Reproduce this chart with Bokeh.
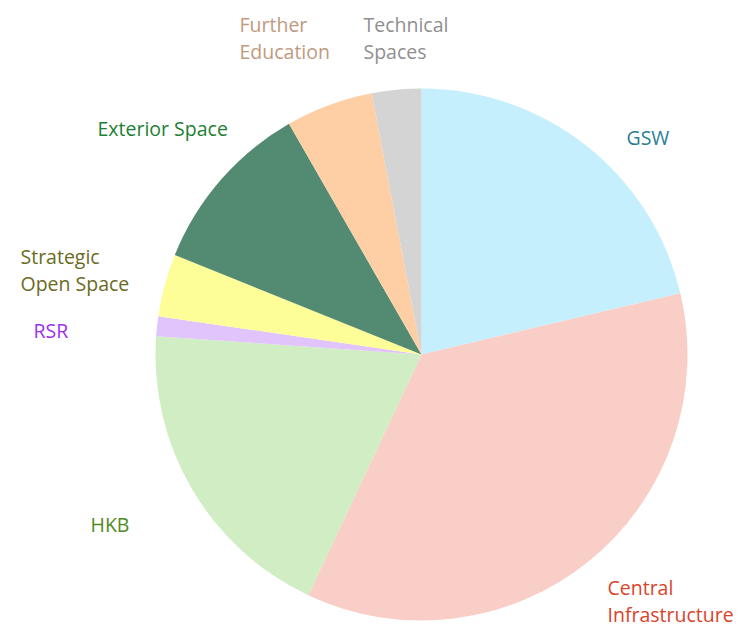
import math
from bokeh.plotting import figure
from bokeh.models import Range1d
from bokeh.core.properties import value
from bokeh.embed import file_html
from bokeh.resources import INLINE

categories = ["GSW", "Central\nInfrastructure", "HKB", "RSR", "Strategic\nOpen Space",
              "Exterior Space", "Further\nEducation", "Technical\nSpaces"]
shares = [21.3, 35.7, 19.1, 1.2, 3.8, 10.6, 5.3, 3.0]
fill_colors = ["#c6effe", "#f9cec6", "#d0edc3", "#e1c4fb", "#fefe99", "#538b72", "#fecfa4", "#d4d4d4"]
label_colors = ["#2b7f93", "#d9442a", "#4f8a1f", "#9b30f5", "#6b6b1f", "#1e7f32", "#c09a7e", "#8f8f8f"]
# label anchor (left x, first-line centre y) in page pixels
label_pos = [(626, 137), (607, 587), (90, 524), (33, 330), (20, 256), (97, 128), (239, 24), (363, 24)]

W, H = 739, 630
p = figure(width=W, height=H, output_backend="svg", toolbar_location=None,
           x_range=Range1d(0, W), y_range=Range1d(0, H), min_border=0)
p.axis.visible = False
p.grid.visible = False
p.outline_line_color = None
p.background_fill_color = "white"

cx, cy, r = 421, H - 354, 266
total = sum(shares)
cum = 0.0
for s, c in zip(shares, fill_colors):
    a0 = math.pi / 2 - 2 * math.pi * (cum + s) / total
    a1 = math.pi / 2 - 2 * math.pi * cum / total
    p.wedge(x=cx, y=cy, radius=r, start_angle=a0, end_angle=a1,
            fill_color=c, line_color=None)
    cum += s

LH = 27
for lab, col, (sx, sy) in zip(categories, label_colors, label_pos):
    for i, line in enumerate(lab.split("\n")):
        p.text(x=[sx], y=[H - (sy + i * LH)], text=[line], text_color=col,
               text_font=value("Open Sans"), text_font_size="19.5px",
               text_align="left", text_baseline="middle")

open("out.html", "w").write(file_html(p, INLINE))
